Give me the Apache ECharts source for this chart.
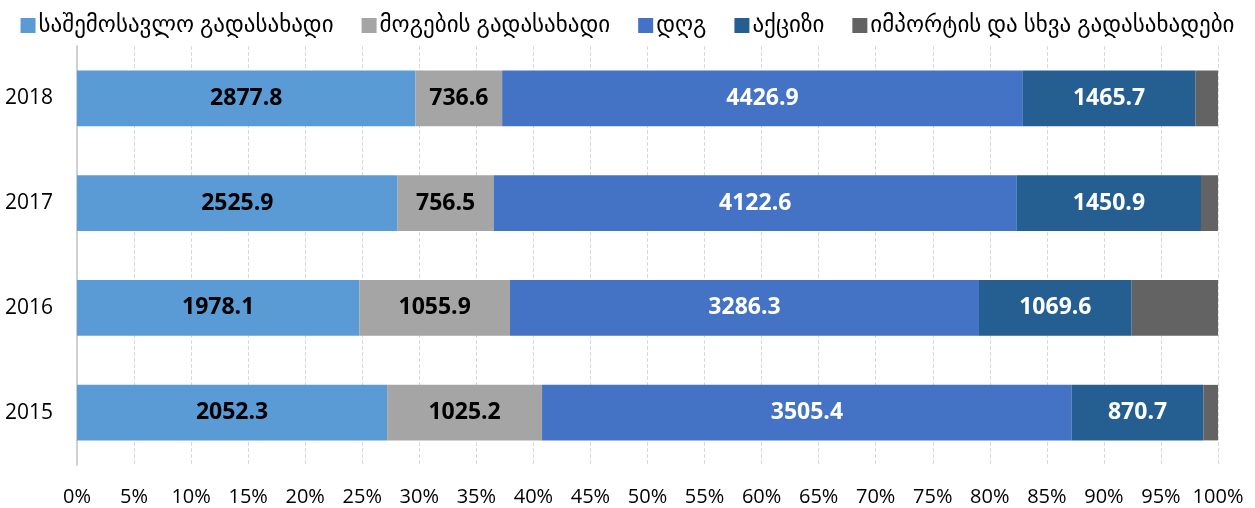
<!DOCTYPE html>
<html>
<head>
<meta charset="utf-8">
<script src="https://cdn.jsdelivr.net/npm/echarts@6/dist/echarts.min.js"></script>
<style>
html, body { margin: 0; padding: 0; background: #fff; }
#chart { width: 1255px; height: 508px; }
</style>
</head>
<body>
<div id="chart"></div>
<script>
'use strict';

var years = ['2015', '2016', '2017', '2018'];
var seriesNames = ['საშემოსავლო გადასახადი', 'მოგების გადასახადი', 'დღგ', 'აქციზი', 'იმპორტის და სხვა გადასახადები'];
var incomeTax = [2052.3, 1978.1, 2525.9, 2877.8];
var profitTax = [1025.2, 1055.9, 756.5, 736.6];
var vat = [3505.4, 3286.3, 4122.6, 4426.9];
var excise = [870.7, 1069.6, 1450.9, 1465.7];
// no labels on this one in the original
var importOther = [97, 605, 134, 193];

var colors = ['#5B9BD5', '#A5A5A5', '#4472C4', '#255E91', '#636363'];
var labelColors = ['#000', '#000', '#fff', '#fff', null];

var font = "'Open Sans', 'DejaVu Sans', sans-serif";

function toPercent(all) {
    var out = all.map(function() { return []; });
    for (var i = 0; i < years.length; i++) {
        var total = 0;
        all.forEach(function(arr) { total += arr[i]; });
        all.forEach(function(arr, k) { out[k].push(arr[i] / total * 100); });
    }
    return out;
}

var raw = [incomeTax, profitTax, vat, excise, importOther];
var pct = toPercent(raw);

var series = raw.map(function(arr, k) {
    return {
        name: seriesNames[k],
        type: 'bar',
        stack: 'total',
        barCategoryGap: '47%',
        data: pct[k],
        itemStyle: { color: colors[k] },
        label: {
            show: labelColors[k] !== null,
            position: 'inside',
            color: labelColors[k] || '#000',
            fontFamily: font,
            fontWeight: 'bold',
            fontSize: 23,
            formatter: function(p) {
                return arr[p.dataIndex].toFixed(1);
            }
        }
    };
});

var chart = echarts.init(document.getElementById('chart'));
chart.setOption({
    animation: false,
    color: colors,
    legend: {
        top: 9,
        left: 'center',
        itemWidth: 15,
        itemHeight: 15,
        itemGap: 28,
        icon: 'rect',
        textStyle: { fontFamily: font, fontSize: 23, color: '#000', padding: [0, 0, 0, -2] },
        data: seriesNames
    },
    grid: { left: 77, right: 37, top: 46, bottom: 43 },
    xAxis: {
        type: 'value',
        min: 0,
        max: 100,
        interval: 5,
        axisLine: { show: false },
        axisTick: { show: false },
        axisLabel: {
            formatter: '{value}%',
            fontFamily: font,
            fontSize: 20,
            color: '#000',
            margin: 22
        },
        splitLine: { lineStyle: { color: '#d9d9d9', type: 'dashed' } }
    },
    yAxis: {
        type: 'category',
        data: years,
        axisLine: { show: true, lineStyle: { color: '#d0d0d0', width: 2 } },
        axisTick: { show: false },
        axisLabel: { fontFamily: font, fontSize: 21, color: '#000', margin: 24 }
    },
    series: series
});
</script>
</body>
</html>
